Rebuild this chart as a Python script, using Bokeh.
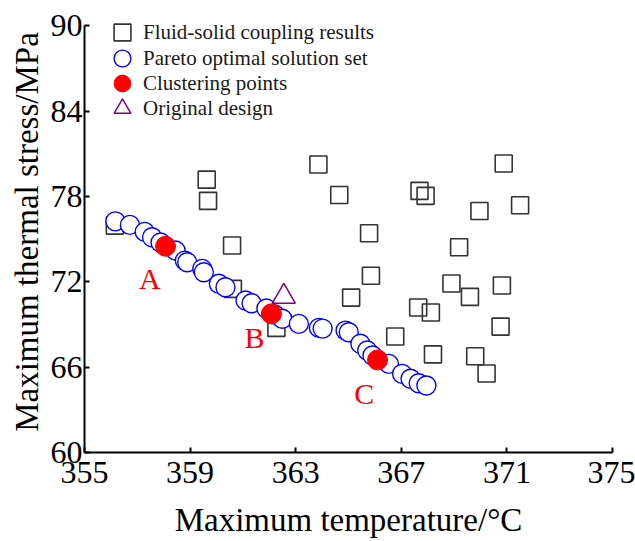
from bokeh.plotting import figure
from bokeh.models import Range1d, FixedTicker, Legend, LegendItem, ColumnDataSource
from bokeh.embed import file_html
from bokeh.resources import INLINE
from bokeh.core.properties import value

# ---- data ----
fsc_x = [356.15, 359.63, 359.68, 360.59, 360.62, 363.86, 364.65, 367.69, 367.92,
         365.78, 365.85, 365.10, 367.64, 368.12, 366.77, 368.20, 362.27, 370.88,
         371.50, 369.96, 369.19, 368.90, 369.60, 370.81, 370.76, 369.80, 370.23]
fsc_y = [75.95, 79.18, 77.69, 74.55, 71.50, 80.24, 78.10, 78.39, 78.04,
         75.41, 72.42, 70.89, 70.19, 69.84, 68.15, 66.90, 68.76, 80.31,
         77.38, 76.98, 74.43, 71.88, 70.94, 71.74, 68.85, 66.77, 65.55]

pareto_x = [356.17, 356.72, 357.28, 357.56, 357.88, 358.45, 358.80, 358.89, 359.46,
            359.52, 360.09, 360.34, 361.10, 361.33, 361.89, 362.20, 362.49, 363.12,
            363.88, 364.02, 364.89, 365.01, 365.45, 365.71, 365.91, 366.53, 367.03,
            367.35, 367.66, 367.95]
pareto_y = [76.25, 76.00, 75.51, 75.13, 74.76, 74.20, 73.49, 73.37, 72.91,
            72.67, 71.86, 71.62, 70.68, 70.49, 70.12, 69.70, 69.40, 69.04,
            68.76, 68.71, 68.57, 68.45, 67.64, 67.17, 66.82, 66.23, 65.53,
            65.18, 64.87, 64.71]

cluster_x = [358.07, 362.08, 366.10]
cluster_y = [74.50, 69.75, 66.51]
cluster_labels = ["A", "B", "C"]
label_x = [357.47, 361.44, 365.60]
label_y = [72.2, 68.08, 64.18]

orig_x = [362.55]
orig_y = [70.96]

x_ticks = [355, 359, 363, 367, 371, 375]
y_ticks = [60, 66, 72, 78, 84, 90]

legend_labels = ["Fluid-solid coupling results", "Pareto optimal solution set",
                 "Clustering points", "Original design"]

FONT = "Liberation Serif"

# y range runs a little past 90 so the legend sits fully inside the frame;
# the axis itself is bounded to 60..90
p = figure(width=635, height=541, output_backend="svg", toolbar_location=None,
           x_range=Range1d(355, 375), y_range=Range1d(60, 91),
           min_border_left=84, min_border_right=23, min_border_top=11,
           min_border_bottom=89)
p.outline_line_color = None
p.xgrid.visible = False
p.ygrid.visible = False
p.background_fill_color = "white"
p.border_fill_color = "white"

for ax, ticks in ((p.xaxis[0], x_ticks), (p.yaxis[0], y_ticks)):
    ax.ticker = FixedTicker(ticks=ticks)
    ax.bounds = (ticks[0], ticks[-1])
    ax.minor_tick_line_color = None
    ax.major_tick_in = 5
    ax.major_tick_out = 0
    ax.axis_line_width = 2
    ax.major_tick_line_width = 2
    ax.axis_line_color = "black"
    ax.major_tick_line_color = "black"
    ax.major_label_text_font = FONT
    ax.major_label_text_font_size = "32px"
    ax.major_label_text_color = "black"
    ax.axis_label_text_font = FONT
    ax.axis_label_text_font_size = "33px"
    ax.axis_label_text_font_style = "normal"
    ax.axis_label_text_color = "black"

p.xaxis.axis_label = "Maximum temperature/°C"
p.yaxis.axis_label = "Maximum thermal stress/MPa"
p.xaxis.major_label_standoff = 9
p.xaxis.axis_label_standoff = 16
p.yaxis.major_label_standoff = 2
p.yaxis.axis_label_standoff = 3

r_sq = p.scatter(fsc_x, fsc_y, marker="square", size=17, fill_color=None,
                 line_color="#333333", line_width=1.6)
r_par = p.scatter(pareto_x, pareto_y, marker="circle", size=19, fill_color="white",
                  line_color="#0000ff", line_width=1.4)
r_cl = p.scatter(cluster_x, cluster_y, marker="circle", size=20, fill_color="#ff0000",
                 line_color="#ff0000", line_width=1)
r_or = p.scatter(orig_x, orig_y, marker="triangle", size=23, fill_color=None,
                 line_color="#800080", line_width=1.5)

src_lab = ColumnDataSource(dict(x=label_x, y=label_y, t=cluster_labels))
p.text(x="x", y="y", text="t", source=src_lab, text_font=value(FONT),
       text_font_size="30px", text_color="#ff0000", text_align="center",
       text_baseline="middle")

# one single-item legend per row, stacked inside the top-left corner
row_offsets = [398, 372, 347, 322]
for lab, rend, vy in zip(legend_labels, [r_sq, r_par, r_cl, r_or], row_offsets):
    lg = Legend(items=[LegendItem(label=lab, renderers=[rend])],
                location=(17, vy), glyph_width=42, glyph_height=44,
                label_standoff=0, padding=0, margin=0, border_line_color=None,
                background_fill_alpha=0, label_text_font=FONT,
                label_text_font_size="21px", label_text_color="#1a1a1a")
    p.add_layout(lg)

open("out.html", "w").write(file_html(p, INLINE))
